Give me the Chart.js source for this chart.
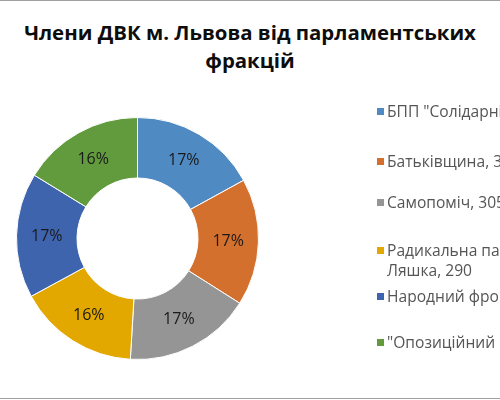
<!DOCTYPE html>
<html>
<head>
<meta charset="utf-8">
<script src="https://cdn.jsdelivr.net/npm/chart.js@4"></script>
<style>
html,body{margin:0;padding:0;background:#fff;}
#wrap{position:relative;width:500px;height:400px;overflow:hidden;background:#fff;}
#lineTop{position:absolute;left:0;top:0;width:500px;height:1px;background:#a0a0a0;}
#lineBot{position:absolute;left:0;top:398px;width:500px;height:1px;background:#a0a0a0;}
#title{position:absolute;left:0;top:18px;width:500px;text-align:center;font-family:'Open Sans',sans-serif;font-weight:bold;font-size:20.4px;line-height:28px;color:#0d0d0d;white-space:nowrap;}
#c{position:absolute;left:0;top:0;}
.li{position:absolute;left:377px;white-space:nowrap;font-family:'Open Sans',sans-serif;font-size:15.6px;line-height:20px;color:#555555;}
.mk{position:absolute;left:0;top:6px;width:7px;height:7px;}
.tx{position:absolute;left:10px;top:-1px;}
</style>
</head>
<body>
<div id="wrap">
  <div id="lineTop"></div>
  <div id="title">Члени ДВК м. Львова від парламентських<br>фракцій</div>
  <canvas id="c" width="500" height="400"></canvas>
  <div id="legend"></div>
  <div id="lineBot"></div>
</div>
<script>
const categories = ['БПП "Солідарність"', 'Батьківщина', 'Самопоміч', ['Радикальна партія', 'Ляшка'], 'Народний фронт', '"Опозиційний блок"'];
const members = [306, 305, 305, 290, 300, 292];
const colors = ['#4f8bc2', '#d4702e', '#959595', '#e2a800', '#3f64ae', '#629a3e'];
const legendTops = [102, 152, 193, 241, 287, 333];

const total = members.reduce((a, b) => a + b, 0);

const pctLabels = {
  id: 'pctLabels',
  afterDatasetsDraw(chart) {
    const ctx = chart.ctx;
    const meta = chart.getDatasetMeta(0);
    ctx.save();
    ctx.font = '16px "Open Sans", sans-serif';
    ctx.fillStyle = '#1a1a1a';
    ctx.textAlign = 'center';
    ctx.textBaseline = 'middle';
    meta.data.forEach((arc, i) => {
      const p = arc.getCenterPoint();
      const v = chart.data.datasets[0].data[i];
      ctx.fillText(Math.round(v / total * 100) + '%', p.x, p.y);
    });
    ctx.restore();
  }
};

const chart = new Chart(document.getElementById('c'), {
  type: 'doughnut',
  data: {
    labels: categories,
    datasets: [{
      data: members,
      backgroundColor: colors,
      borderColor: '#ffffff',
      borderWidth: 1,
      hoverOffset: 0
    }]
  },
  options: {
    responsive: false,
    animation: false,
    events: [],
    cutout: '50%',
    layout: { padding: { left: 16, right: 241, top: 117, bottom: 40 } },
    plugins: {
      legend: { display: false },
      title: { display: false },
      tooltip: { enabled: false }
    }
  },
  plugins: [pctLabels]
});

const legend = document.getElementById('legend');
categories.forEach((lab, i) => {
  const lines = Array.isArray(lab) ? lab.slice() : [lab];
  lines[lines.length - 1] += ', ' + members[i];
  const item = document.createElement('div');
  item.className = 'li';
  item.style.top = legendTops[i] + 'px';
  const mk = document.createElement('div');
  mk.className = 'mk';
  mk.style.background = colors[i];
  const tx = document.createElement('div');
  tx.className = 'tx';
  lines.forEach((ln, k) => {
    if (k) tx.appendChild(document.createElement('br'));
    tx.appendChild(document.createTextNode(ln));
  });
  item.appendChild(mk);
  item.appendChild(tx);
  legend.appendChild(item);
});
</script>
</body>
</html>
